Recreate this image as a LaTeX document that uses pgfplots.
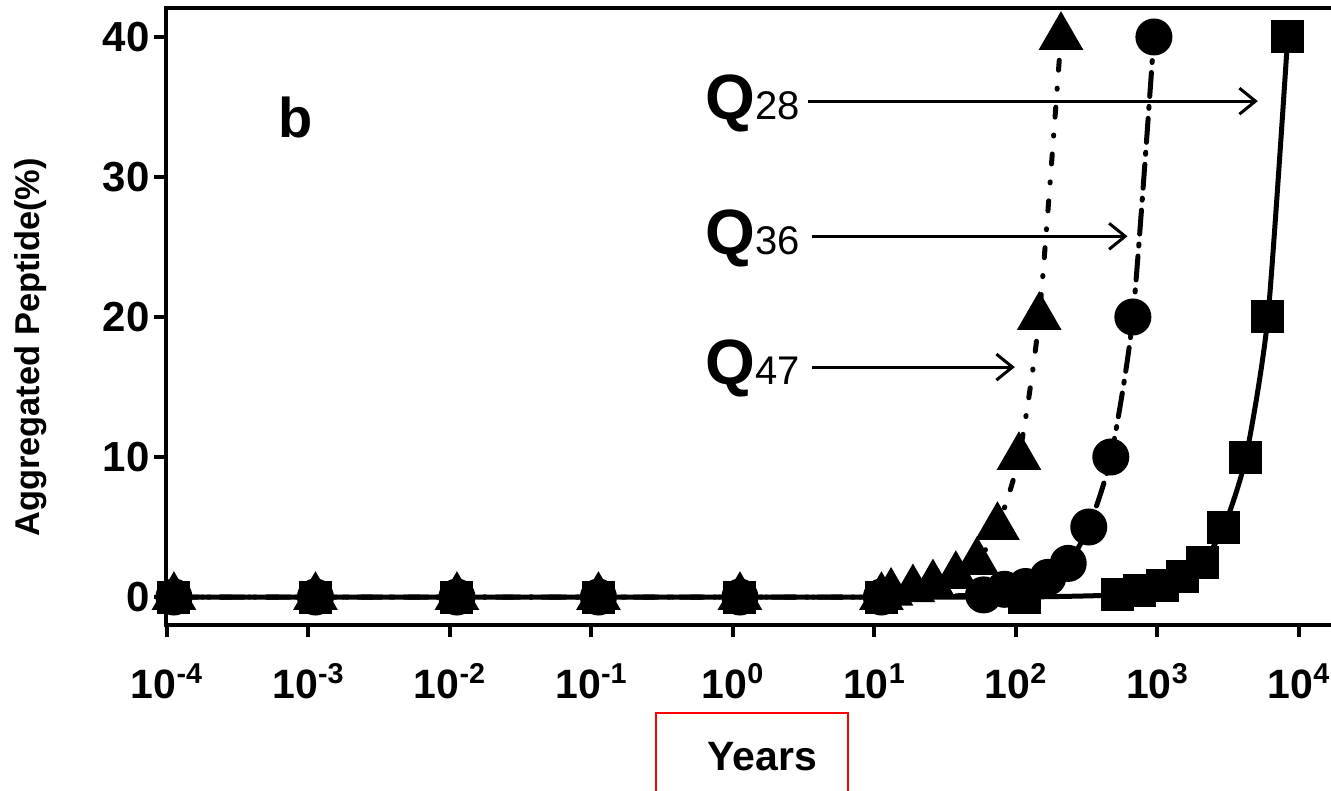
\documentclass[border=0pt]{standalone}
\usepackage{pgfplots}
\pgfplotsset{compat=1.18}
\usepackage{fontspec}
\setmainfont{Liberation Sans}
\usetikzlibrary{arrows.meta}

% aggregation kinetics for the three polyQ lengths
\pgfplotstableread{
x        y
1.12e-4  0
1.12e-3  0
1.12e-2  0
1.12e-1  0
1.12     0
11.2     0
114      0
525      0.15
742      0.5
1090     0.85
1510     1.5
2090     2.5
2950     5
4220     10
6030     20
8330     40
}\qtwentyeight

\pgfplotstableread{
x        y
1.12e-4  0
1.12e-3  0
1.12e-2  0
1.12e-1  0
1.12     0
11.2     0
59       0.15
83       0.55
117      0.75
168      1.4
234      2.4
327      5
468      10
670      20
944      40
}\qthirtysix

\pgfplotstableread{
x        y
1.12e-4  0
1.12e-3  0
1.12e-2  0
1.12e-1  0
1.12     0
11.2     0
13.1     0.3
18.7     0.55
25.9     0.9
37.6     1.5
53       2.5
74       5
105      10
146      20
208      40
}\qfortyseven

\begin{document}
\begin{tikzpicture}
\begin{axis}[
  scale only axis,
  width=587pt, height=308.5pt,
  xmode=log, log basis x=10,
  xmin=9.84e-5, xmax=1.95e4,
  ymin=-2, ymax=42.07,
  clip=false,
  axis line style={line width=2pt},
  tick align=outside,
  xtick pos=bottom, ytick pos=left,
  major tick length=6pt,
  every tick/.style={black, line width=2pt},
  minor tick num=0,
  xtick={1e-4,1e-3,1e-2,1e-1,1,10,100,1000,10000},
  xticklabels={10\textsuperscript{-4},10\textsuperscript{-3},10\textsuperscript{-2},10\textsuperscript{-1},10\textsuperscript{0},10\textsuperscript{1},10\textsuperscript{2},10\textsuperscript{3},10\textsuperscript{4}},
  ytick={0,10,20,30,40},
  yticklabels={0,10,20,30,40},
  xticklabel style={font=\fontsize{20.5}{20.5}\selectfont\bfseries, inner sep=1pt, yshift=-12pt},
  yticklabel style={font=\fontsize{21}{21}\selectfont\bfseries, inner sep=2pt},
]
\addplot[black, line width=2.5pt, smooth, tension=0.4,
  mark=square*, mark size=7pt, mark options={solid}]
  table[x=x,y=y] {\qtwentyeight};
\addplot[black, line width=2.5pt, smooth, tension=0.4,
  dash pattern={on 12pt off 5pt on 1pt off 5pt}, line cap=round,
  mark=*, mark size=8pt, mark options={solid}]
  table[x=x,y=y] {\qthirtysix};
\addplot[black, line width=2.5pt, smooth, tension=0.4,
  dash pattern={on 5pt off 9pt on 0.5pt off 9pt}, line cap=round,
  mark=triangle*, mark size=10.4pt, mark options={solid}]
  table[x=x,y=y] {\qfortyseven};

% panel letter
\node[font=\fontsize{28}{28}\selectfont\bfseries] at (rel axis cs:0.110,0.823) {b};

% series labels with arrows
\node[anchor=base east, inner sep=0pt] at (rel axis cs:0.540,0.820)
  {\fontsize{32}{32}\selectfont\bfseries Q\fontsize{20}{20}\selectfont\mdseries 28};
\node[anchor=base east, inner sep=0pt] at (rel axis cs:0.540,0.601)
  {\fontsize{32}{32}\selectfont\bfseries Q\fontsize{20}{20}\selectfont\mdseries 36};
\node[anchor=base east, inner sep=0pt] at (rel axis cs:0.540,0.389)
  {\fontsize{32}{32}\selectfont\bfseries Q\fontsize{20}{20}\selectfont\mdseries 47};
\draw[line width=1.5pt, -{Straight Barb[length=8pt,width=13pt,line width=1.5pt]}]
  (rel axis cs:0.547,0.849) -- (rel axis cs:0.930,0.849);
\draw[line width=1.5pt, -{Straight Barb[length=8pt,width=13pt,line width=1.5pt]}]
  (rel axis cs:0.550,0.630) -- (rel axis cs:0.819,0.630);
\draw[line width=1.5pt, -{Straight Barb[length=8pt,width=13pt,line width=1.5pt]}]
  (rel axis cs:0.550,0.418) -- (rel axis cs:0.723,0.418);

% axis titles
\node[rotate=90, font=\fontsize{17.2}{17.2}\selectfont\bfseries] at (rel axis cs:-0.115,0.45) {Aggregated Peptide(\%)};
\node[font=\fontsize{20.5}{20.5}\selectfont\bfseries] at (rel axis cs:0.508,-0.214) {Years};
\draw[red, line width=1pt] (rel axis cs:0.417,-0.30) rectangle (rel axis cs:0.581,-0.143);

\coordinate (sw) at (rel axis cs:0,0);
\coordinate (ne) at (rel axis cs:1,1);
\end{axis}
\pgfresetboundingbox
\useasboundingbox ([shift={(-83pt,-82.5pt)}]sw) rectangle ([shift={(-4.5pt,4pt)}]ne);
\end{tikzpicture}
\end{document}
